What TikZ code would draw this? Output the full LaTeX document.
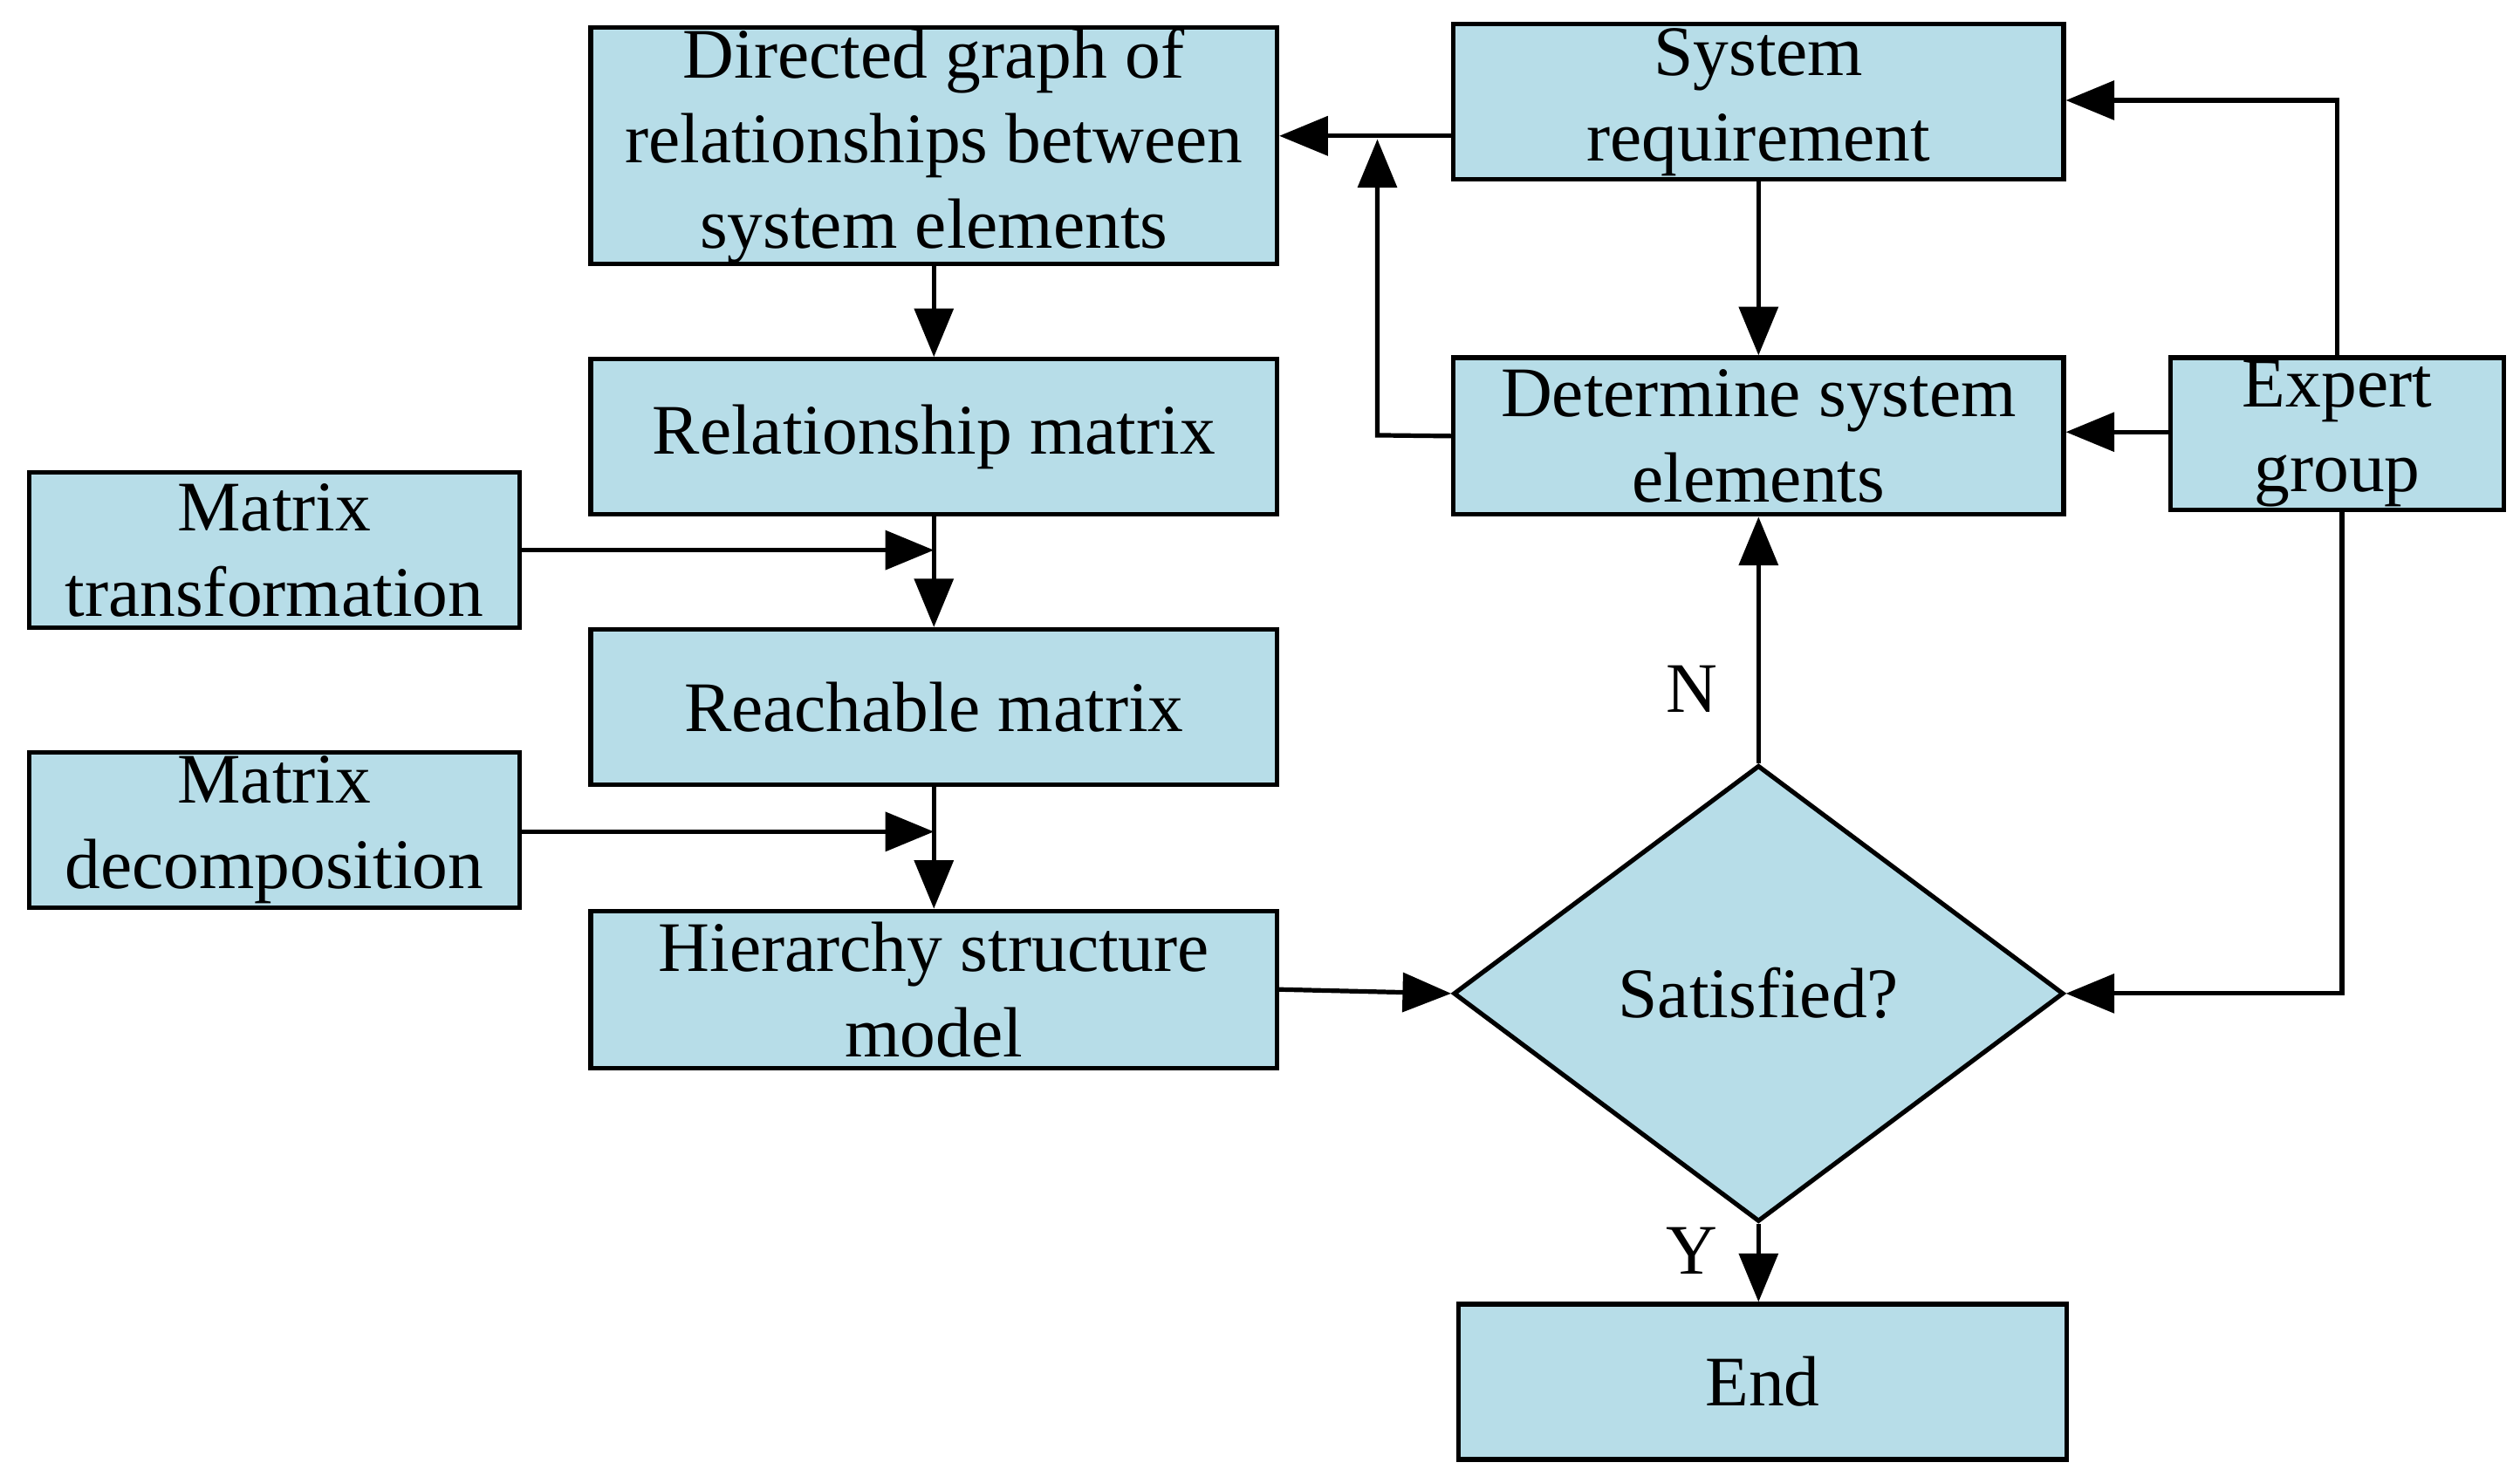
\documentclass[tikz,border=0pt]{standalone}
\usepackage{fontspec}
\setmainfont{Liberation Serif}
\usetikzlibrary{arrows.meta,shapes.geometric}
\definecolor{boxc}{HTML}{B7DDE8}
\begin{document}
\begin{tikzpicture}[x=1cm,y=1cm,
  every node/.style={font=\fontsize{12.5}{15}\selectfont},
  box/.style={draw,line width=0.8pt,fill=boxc,align=center,inner sep=0pt},
  ar/.style={line width=0.8pt,-{Triangle[length=0.3cm,width=0.24cm]}},
  ln/.style={line width=0.8pt}]
\useasboundingbox (0,0) rectangle (15.57,-9.16);
\node[box,minimum width=4.24cm,minimum height=1.42cm] (dg) at (5.77,-0.90) {Directed graph of\\relationships between\\system elements};
\node[box,minimum width=3.77cm,minimum height=0.96cm] (sr) at (10.865,-0.63) {System\\requirement};
\node[box,minimum width=4.24cm,minimum height=0.96cm] (rm) at (5.77,-2.70) {Relationship matrix};
\node[box,minimum width=3.77cm,minimum height=0.97cm] (de) at (10.865,-2.695) {Determine system\\elements};
\node[box,minimum width=2.06cm,minimum height=0.94cm] (eg) at (14.44,-2.68) {Expert\\group};
\node[box,minimum width=3.03cm,minimum height=0.96cm] (mt) at (1.695,-3.40) {Matrix\\transformation};
\node[box,minimum width=4.24cm,minimum height=0.96cm] (ra) at (5.77,-4.37) {Reachable matrix};
\node[box,minimum width=3.03cm,minimum height=0.96cm] (md) at (1.695,-5.13) {Matrix\\decomposition};
\node[box,minimum width=4.24cm,minimum height=0.97cm] (hs) at (5.77,-6.115) {Hierarchy structure\\model};
\node[box,diamond,minimum width=3.77cm,minimum height=2.82cm] (sa) at (10.865,-6.14) {Satisfied?};
\node[box,minimum width=3.76cm,minimum height=0.96cm] (en) at (10.89,-8.54) {End};
\coordinate (c1) at (8.51,-2.69);
\coordinate (c2) at (8.51,-0.86);
\coordinate (c3) at (14.44,-0.62);
\coordinate (c4) at (14.47,-6.14);
\coordinate (j1) at (5.77,-3.40);
\coordinate (j2) at (5.77,-5.14);
\draw[ar] (sr.west |- 0,-0.84) -- (dg.east |- 0,-0.84);
\draw[ar] (de.west) -- (c1) -- (c2);
\draw[ar] (eg.north) -- (c3) -- (sr.east |- c3);
\draw[ar] (eg.west |- 0,-2.67) -- (de.east |- 0,-2.67);
\draw[ar] (c4 |- eg.south) -- (c4) -- (sa.east);
\draw[ar] (sr.south) -- (de.north);
\draw[ar] (sa.north) -- (de.south) node[pos=0.3,left=0.12cm] {N};
\draw[ar] (sa.south) -- (sa.south |- en.north) node[pos=0.35,left=0.12cm] {Y};
\draw[ar] (hs.east) -- (sa.west);
\draw[ar] (dg.south) -- (rm.north);
\draw[ar] (rm.south) -- (ra.north);
\draw[ar] (ra.south) -- (hs.north);
\draw[ar] (mt.east |- j1) -- (j1);
\draw[ar] (md.east |- j2) -- (j2);
\end{tikzpicture}
\end{document}
